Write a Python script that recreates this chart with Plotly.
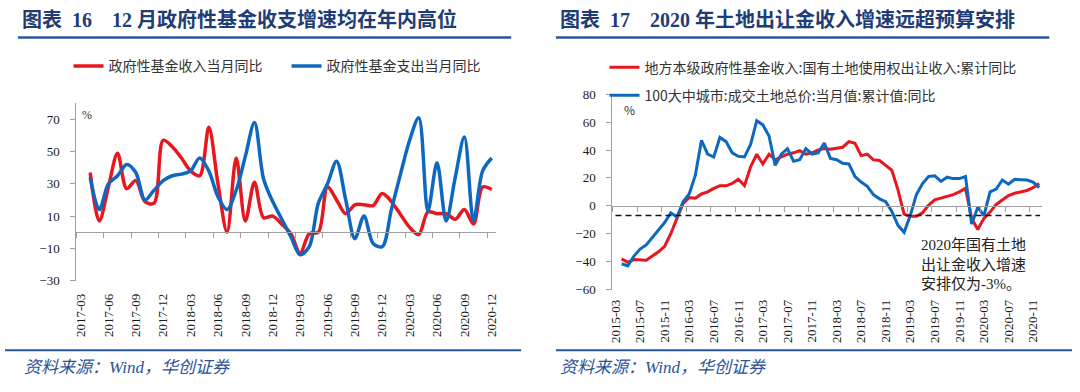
import plotly.graph_objects as go

# ---------------- Left chart data (图表16) ----------------
months_a = [
    "2017-03", "2017-04", "2017-05", "2017-06", "2017-07", "2017-08", "2017-09", "2017-10", "2017-11", "2017-12",
    "2018-01", "2018-02", "2018-03", "2018-04", "2018-05", "2018-06", "2018-07", "2018-08", "2018-09", "2018-10",
    "2018-11", "2018-12", "2019-01", "2019-02", "2019-03", "2019-04", "2019-05", "2019-06", "2019-07", "2019-08",
    "2019-09", "2019-10", "2019-11", "2019-12", "2020-01", "2020-02", "2020-03", "2020-04", "2020-05", "2020-06",
    "2020-07", "2020-08", "2020-09", "2020-10", "2020-11", "2020-12",
]
income_a = [None, 37, 7, 28, 49, 27, 32, 19, 18, 57,
            53, 46, 38, 35, 65, 30, 0, 46, 7, 31,
            9, 10, 5, -1, -13, -1, 0, 28, 20, 11.5,
            17, 17, 16.5, 24, 19, 11, 3, -1.5, 12.5, 11.5,
            11.5, 8, 14, 5, 28, 26.5]
spend_a = [None, 34, 14, 30, 35, 42, 37, 20, 26, 32,
           35, 36, 38, 46, 38, 22, 14, 26, 47, 68,
           33, 19, 8, -3, -14, -9, 18, 30, 44, 20,
           -4, 10, -7, -9, 14, 36, 57, 71, 13, 43,
           7, 34, 59, 7, 38, 46]
ticks_a = ["2017-03", "2017-06", "2017-09", "2017-12", "2018-03", "2018-06", "2018-09", "2018-12",
           "2019-03", "2019-06", "2019-09", "2019-12", "2020-03", "2020-06", "2020-09", "2020-12"]
yticks_a = [-30, -10, 10, 30, 50, 70]
yrange_a = [-30, 80]

# ---------------- Right chart data (图表17) ----------------
months_b = [
    "2015-03", "2015-04", "2015-05", "2015-06", "2015-07", "2015-08", "2015-09", "2015-10", "2015-11", "2015-12",
    "2016-01", "2016-02", "2016-03", "2016-04", "2016-05", "2016-06", "2016-07", "2016-08", "2016-09", "2016-10",
    "2016-11", "2016-12", "2017-01", "2017-02", "2017-03", "2017-04", "2017-05", "2017-06", "2017-07", "2017-08",
    "2017-09", "2017-10", "2017-11", "2017-12", "2018-01", "2018-02", "2018-03", "2018-04", "2018-05", "2018-06",
    "2018-07", "2018-08", "2018-09", "2018-10", "2018-11", "2018-12", "2019-01", "2019-02", "2019-03", "2019-04",
    "2019-05", "2019-06", "2019-07", "2019-08", "2019-09", "2019-10", "2019-11", "2019-12", "2020-01", "2020-02",
    "2020-03", "2020-04", "2020-05", "2020-06", "2020-07", "2020-08", "2020-09", "2020-10", "2020-11", "2020-12",
]
land_rev_b = [None, -38, -40.5, -38.5, -38.5, -39, -36, -33, -29, -20,
              -9, 1.5, 6, 5.5, 8.5, 10, 12.5, 14.3, 14.3, 16,
              19, 14.5, 28, 37, 30, 37, 33, 35, 37, 38,
              39.5, 37, 38, 40, 41, 40.5, 41, 42, 46, 44.8,
              36, 37, 33, 32.5, 29, 25.5, 11.5, -6, -7.5, -7.5,
              -5, 0.5, 4.3, 5.6, 7, 8, 10, 12.5, -9, -17,
              -9, -4.5, 1, 4, 7.3, 9, 10, 11, 13, 16]
land_price_b = [None, -41.5, -43, -36, -31, -28, -22.5, -17, -12, -5,
                -8, 3, 8.5, 22, 47, 37, 35, 49, 46, 38,
                35.5, 35, 44, 61, 58, 50, 29, 37, 41, 32,
                33, 41, 37, 38, 45, 34, 33, 30.5, 30, 21,
                17, 14, 8, 5, 3, -4, -14, -19, -7, 8,
                16, 21, 21.5, 17.5, 20.5, 19.5, 19.5, 21, -13, -1,
                -7, 10, 12, 18.5, 15.5, 19, 18.8, 18.5, 17, 13]
ticks_b = ["2015-03", "2015-07", "2015-11", "2016-03", "2016-07", "2016-11", "2017-03", "2017-07", "2017-11",
           "2018-03", "2018-07", "2018-11", "2019-03", "2019-07", "2019-11", "2020-03", "2020-07", "2020-11"]
yticks_b = [-60, -40, -20, 0, 20, 40, 60, 80]
yrange_b = [-60, 80]
budget_level_b = -7  # dashed reference line

# ---------------- styling ----------------
RED = "#E8161E"
BLUE = "#0E68C0"
AXIS = "#A0A0A0"
NAVY = "#1F3C74"
RULE = "#2B579A"
SERIF = "Liberation Serif, Noto Sans CJK SC, serif"
SANS = "Noto Sans CJK SC, sans-serif"
W, H = 1080, 392
SP = "\u00a0"

# vertical calibration of the rendered page (observed: screen_y ~ 0.965 * y + 6.5)
CAL_S, CAL_O = 0.965, 6.5


def py(px):
    """paper y for a target on-screen pixel row"""
    return 1 - ((px - CAL_O) / CAL_S) / H


def pyf(px):
    """paper y for a raw figure pixel row"""
    return 1 - px / H


dom_xa = [72 / W, 495 / W]
dom_ya = [py(281), py(103)]
dom_xb = [612 / W, 1045 / W]
dom_yb = [py(290), py(94)]


def zero_pos(dom, rng):
    return dom[0] + (0 - rng[0]) / (rng[1] - rng[0]) * (dom[1] - dom[0])


fig = go.Figure()
fig.add_trace(go.Scatter(x=months_a, y=income_a, name="政府性基金收入当月同比", mode="lines",
                         line=dict(color=RED, width=3.5, shape="spline", smoothing=0.9),
                         xaxis="x", yaxis="y", legend="legend"))
fig.add_trace(go.Scatter(x=months_a, y=spend_a, name="政府性基金支出当月同比", mode="lines",
                         line=dict(color=BLUE, width=3.5, shape="spline", smoothing=0.9),
                         xaxis="x3", yaxis="y", legend="legend"))
fig.add_trace(go.Scatter(x=months_b, y=land_rev_b, name="地方本级政府性基金收入:国有土地使用权出让收入:累计同比",
                         mode="lines", line=dict(color=RED, width=3),
                         xaxis="x2", yaxis="y2", legend="legend2", legendgroup="r1"))
fig.add_trace(go.Scatter(x=months_b, y=land_price_b, name="100大中城市:成交土地总价:当月值:累计值:同比",
                         mode="lines", line=dict(color=BLUE, width=3),
                         xaxis="x4", yaxis="y2", legend="legend2", legendgroup="r2"))

tickfont = dict(family=SERIF, size=13, color="#1a1a1a")


def label_axis(dom, anchor, cats, ticks, ticklen):
    return dict(domain=dom, anchor=anchor, type="category", categoryorder="array", categoryarray=cats,
                range=[-0.5, len(cats) - 0.5], tickmode="array", tickvals=ticks, ticktext=ticks,
                tickangle=-90, ticks="outside", ticklen=ticklen, tickcolor="rgba(0,0,0,0)",
                showline=False, showgrid=False, zeroline=False, tickfont=tickfont)


def zero_axis(over, pos, cats, step):
    return dict(overlaying=over, anchor="free", position=pos, type="category", categoryorder="array",
                categoryarray=cats, range=[-0.5, len(cats) - 0.5], tickmode="linear", tick0=0, dtick=step,
                tickson="boundaries", ticks="outside", ticklen=5, tickcolor=AXIS, tickwidth=1.2,
                showticklabels=False, showline=True, linecolor=AXIS, linewidth=1.3,
                showgrid=False, zeroline=False)


def value_axis(dom, anchor, rng, vals):
    return dict(domain=dom, anchor=anchor, range=rng, tickmode="array", tickvals=vals,
                ticks="outside", ticklen=5, tickcolor=AXIS, tickwidth=1.2, showline=True, linecolor=AXIS,
                linewidth=1.3, showgrid=False, zeroline=False, tickfont=tickfont, ticklabelstandoff=8)


fig.update_layout(
    width=W, height=H, margin=dict(l=0, r=0, t=0, b=0),
    paper_bgcolor="white", plot_bgcolor="rgba(0,0,0,0)",
    xaxis=label_axis(dom_xa, "y", months_a, ticks_a, 7),
    xaxis3=zero_axis("x", zero_pos(dom_ya, yrange_a), months_a, 3),
    yaxis=value_axis(dom_ya, "x", yrange_a, yticks_a),
    xaxis2=label_axis(dom_xb, "y2", months_b, ticks_b, 4),
    xaxis4=zero_axis("x2", zero_pos(dom_yb, yrange_b), months_b, 4),
    yaxis2=value_axis(dom_yb, "x2", yrange_b, yticks_b),
    legend=dict(orientation="h", x=64 / W, y=py(66), xanchor="left", yanchor="middle",
                entrywidth=173, font=dict(family=SANS, size=14, color="#333333"),
                bgcolor="rgba(0,0,0,0)"),
    legend2=dict(orientation="v", x=604 / W, y=pyf(77.5), xanchor="left", yanchor="middle",
                 font=dict(family=SANS, size=14, color="#333333"), bgcolor="rgba(0,0,0,0)",
                 tracegroupgap=7),
    showlegend=True,
)

annotations = [
    dict(text="<b>图表" + SP * 2 + "16" + SP * 4 + "12" + SP + "月政府性基金收支增速均在年内高位</b>",
         x=15 / W, y=py(19), xanchor="left", yanchor="middle",
         font=dict(family=SERIF, size=20, color=NAVY)),
    dict(text="<b>图表" + SP * 2 + "17" + SP * 4 + "2020" + SP + "年土地出让金收入增速远超预算安排</b>",
         x=557 / W, y=py(19), xanchor="left", yanchor="middle",
         font=dict(family=SERIF, size=20, color=NAVY)),
    dict(text="<i>资料来源：Wind，华创证券</i>", x=17 / W, y=py(368), xanchor="left", yanchor="middle",
         font=dict(family=SERIF, size=17, color="#2A5298")),
    dict(text="<i>资料来源：Wind，华创证券</i>", x=557 / W, y=py(368), xanchor="left", yanchor="middle",
         font=dict(family=SERIF, size=17, color="#2A5298")),
    dict(text="%", x=83 / W, y=py(115), xanchor="center", yanchor="middle",
         font=dict(family=SERIF, size=12, color="#333333")),
    dict(text="%", x=629 / W, y=py(109), xanchor="center", yanchor="middle",
         font=dict(family=SANS, size=12, color="#333333")),
    dict(text="2020年国有土地<br>出让金收入增速<br>安排仅为-3%。", x=921 / W, y=pyf(237),
         xanchor="left", yanchor="top", align="left",
         font=dict(family=SERIF, size=15, color="#222222")),
]
for a in annotations:
    a.update(xref="paper", yref="paper", showarrow=False)
fig.update_layout(annotations=annotations)

shapes = [
    dict(type="line", xref="paper", yref="paper", x0=13 / W, x1=510 / W, y0=py(37), y1=py(37),
         line=dict(color=RULE, width=2.5)),
    dict(type="line", xref="paper", yref="paper", x0=555 / W, x1=1052 / W, y0=py(37), y1=py(37),
         line=dict(color=RULE, width=2.5)),
    dict(type="line", xref="paper", yref="paper", x0=0, x1=520 / W, y0=py(351), y1=py(351),
         line=dict(color=RULE, width=2)),
    dict(type="line", xref="paper", yref="paper", x0=555 / W, x1=1075 / W, y0=py(351), y1=py(351),
         line=dict(color=RULE, width=2)),
    dict(type="line", xref="x2 domain", yref="y2", x0=0.007, x1=0.995, y0=budget_level_b, y1=budget_level_b,
         line=dict(color="#111111", width=1.5, dash="6px,4px")),
]
fig.update_layout(shapes=shapes)

fig.write_html("out.html", config={"displayModeBar": False},
               post_script="document.body.style.margin='0';document.body.style.overflow='hidden';")
